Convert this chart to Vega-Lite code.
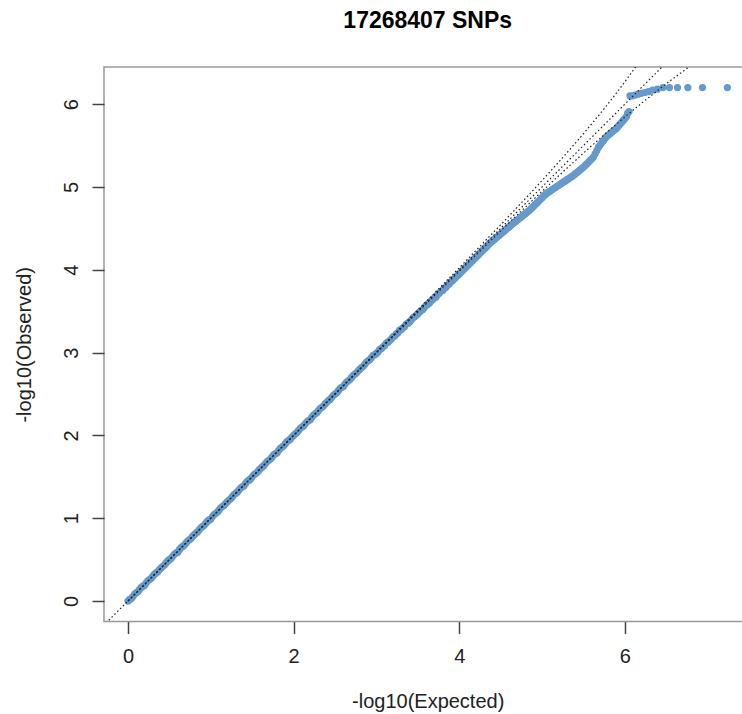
{
  "$schema": "https://vega.github.io/schema/vega-lite/v6.json",
  "width": 647.4,
  "height": 554.6,
  "autosize": {"type": "none"},
  "padding": {"left": 104, "top": 67, "right": 0, "bottom": 92},
  "background": "white",
  "title": {"text": "17268407 SNPs", "font": "Liberation Sans", "fontSize": 23, "fontWeight": "bold", "color": "#000000", "baseline": "alphabetic", "offset": 16, "anchor": "middle"},
  "config": {"view": {"stroke": "#999999", "strokeWidth": 1.5}, "font": "Liberation Sans"},
  "datasets": {
    "pts": [
      {"e":0.00,"o":0.00},{"e":0.04,"o":0.03},{"e":0.08,"o":0.085},{"e":0.12,"o":0.115},{"e":0.16,"o":0.165},{"e":0.20,"o":0.19},{"e":0.24,"o":0.245},{"e":0.28,"o":0.275},{"e":0.32,"o":0.325},{"e":0.36,"o":0.355},
      {"e":0.40,"o":0.40},{"e":0.44,"o":0.435},{"e":0.48,"o":0.485},{"e":0.52,"o":0.515},{"e":0.56,"o":0.565},{"e":0.60,"o":0.59},{"e":0.64,"o":0.645},{"e":0.68,"o":0.675},{"e":0.72,"o":0.725},{"e":0.76,"o":0.755},
      {"e":0.80,"o":0.80},{"e":0.84,"o":0.835},{"e":0.88,"o":0.885},{"e":0.92,"o":0.915},{"e":0.96,"o":0.965},{"e":1.00,"o":0.99},{"e":1.04,"o":1.045},{"e":1.08,"o":1.075},{"e":1.12,"o":1.125},{"e":1.16,"o":1.155},
      {"e":1.20,"o":1.20},{"e":1.24,"o":1.235},{"e":1.28,"o":1.285},{"e":1.32,"o":1.315},{"e":1.36,"o":1.365},{"e":1.40,"o":1.39},{"e":1.44,"o":1.445},{"e":1.48,"o":1.475},{"e":1.52,"o":1.525},{"e":1.56,"o":1.555},
      {"e":1.60,"o":1.60},{"e":1.64,"o":1.635},{"e":1.68,"o":1.685},{"e":1.72,"o":1.715},{"e":1.76,"o":1.765},{"e":1.80,"o":1.79},{"e":1.84,"o":1.845},{"e":1.88,"o":1.875},{"e":1.92,"o":1.925},{"e":1.96,"o":1.955},
      {"e":2.00,"o":2.00},{"e":2.04,"o":2.035},{"e":2.08,"o":2.085},{"e":2.12,"o":2.115},{"e":2.16,"o":2.165},{"e":2.20,"o":2.19},{"e":2.24,"o":2.245},{"e":2.28,"o":2.275},{"e":2.32,"o":2.325},{"e":2.36,"o":2.355},
      {"e":2.40,"o":2.40},{"e":2.44,"o":2.435},{"e":2.48,"o":2.485},{"e":2.52,"o":2.515},{"e":2.56,"o":2.565},{"e":2.60,"o":2.59},{"e":2.64,"o":2.645},{"e":2.68,"o":2.675},{"e":2.72,"o":2.725},{"e":2.76,"o":2.755},
      {"e":2.80,"o":2.80},{"e":2.84,"o":2.835},{"e":2.88,"o":2.885},{"e":2.92,"o":2.915},{"e":2.96,"o":2.965},{"e":3.00,"o":2.99},{"e":3.04,"o":3.04},{"e":3.08,"o":3.07},{"e":3.12,"o":3.115},{"e":3.16,"o":3.145},
      {"e":3.20,"o":3.19},{"e":3.24,"o":3.225},{"e":3.28,"o":3.27},{"e":3.32,"o":3.30},{"e":3.36,"o":3.345},{"e":3.40,"o":3.37},{"e":3.44,"o":3.42},{"e":3.48,"o":3.45},{"e":3.52,"o":3.49},{"e":3.56,"o":3.52},
      {"e":3.60,"o":3.57},{"e":3.64,"o":3.60},{"e":3.68,"o":3.64},{"e":3.72,"o":3.67},{"e":3.76,"o":3.72},{"e":3.80,"o":3.75},{"e":3.84,"o":3.79},{"e":3.88,"o":3.83},{"e":3.92,"o":3.87},{"e":3.96,"o":3.91},
      {"e":0.02,"o":0.02},{"e":0.06,"o":0.055},{"e":0.10,"o":0.10},{"e":0.14,"o":0.14},{"e":0.18,"o":0.18},{"e":0.22,"o":0.22},{"e":0.26,"o":0.26},{"e":0.30,"o":0.30},{"e":0.34,"o":0.34},{"e":0.38,"o":0.38},
      {"e":0.42,"o":0.42},{"e":0.46,"o":0.46},{"e":0.50,"o":0.50},{"e":0.54,"o":0.54},{"e":0.58,"o":0.58},{"e":0.62,"o":0.62},{"e":0.66,"o":0.66},{"e":0.70,"o":0.70},{"e":0.74,"o":0.74},{"e":0.78,"o":0.78},
      {"e":0.82,"o":0.82},{"e":0.86,"o":0.86},{"e":0.90,"o":0.90},{"e":0.94,"o":0.94},{"e":0.98,"o":0.98},{"e":1.02,"o":1.02},{"e":1.06,"o":1.06},{"e":1.10,"o":1.10},{"e":1.14,"o":1.14},{"e":1.18,"o":1.18},
      {"e":1.22,"o":1.22},{"e":1.26,"o":1.26},{"e":1.30,"o":1.30},{"e":1.34,"o":1.34},{"e":1.38,"o":1.38},{"e":1.42,"o":1.42},{"e":1.46,"o":1.46},{"e":1.50,"o":1.50},{"e":1.54,"o":1.54},{"e":1.58,"o":1.58},
      {"e":1.62,"o":1.62},{"e":1.66,"o":1.66},{"e":1.70,"o":1.70},{"e":1.74,"o":1.74},{"e":1.78,"o":1.78},{"e":1.82,"o":1.82},{"e":1.86,"o":1.86},{"e":1.90,"o":1.90},{"e":1.94,"o":1.94},{"e":1.98,"o":1.98},
      {"e":2.02,"o":2.02},{"e":2.06,"o":2.06},{"e":2.10,"o":2.10},{"e":2.14,"o":2.14},{"e":2.18,"o":2.18},{"e":2.22,"o":2.22},{"e":2.26,"o":2.26},{"e":2.30,"o":2.30},{"e":2.34,"o":2.34},{"e":2.38,"o":2.38},
      {"e":2.42,"o":2.42},{"e":2.46,"o":2.46},{"e":2.50,"o":2.50},{"e":2.54,"o":2.54},{"e":2.58,"o":2.58},{"e":2.62,"o":2.62},{"e":2.66,"o":2.66},{"e":2.70,"o":2.70},{"e":2.74,"o":2.74},{"e":2.78,"o":2.78},
      {"e":2.82,"o":2.82},{"e":2.86,"o":2.86},{"e":2.90,"o":2.90},{"e":2.94,"o":2.94},{"e":2.98,"o":2.975},{"e":3.02,"o":3.009},{"e":3.06,"o":3.048},{"e":3.10,"o":3.086},{"e":3.14,"o":3.125},{"e":3.18,"o":3.163},
      {"e":3.22,"o":3.201},{"e":3.26,"o":3.24},{"e":3.30,"o":3.278},{"e":3.34,"o":3.316},{"e":3.38,"o":3.355},{"e":3.42,"o":3.393},{"e":3.46,"o":3.432},{"e":3.50,"o":3.47},{"e":3.54,"o":3.508},{"e":3.58,"o":3.547},
      {"e":3.62,"o":3.585},{"e":3.66,"o":3.624},{"e":3.70,"o":3.662},{"e":3.74,"o":3.70},{"e":3.78,"o":3.739},{"e":3.82,"o":3.777},{"e":3.86,"o":3.816},{"e":3.90,"o":3.854},{"e":3.94,"o":3.892},{"e":3.98,"o":3.931},
      {"e":4.00,"o":3.95},{"e":4.02,"o":3.97},{"e":4.04,"o":3.99},{"e":4.06,"o":4.01},{"e":4.08,"o":4.03},{"e":4.10,"o":4.05},{"e":4.12,"o":4.07},{"e":4.14,"o":4.09},{"e":4.16,"o":4.11},{"e":4.18,"o":4.13},
      {"e":4.20,"o":4.15},{"e":4.22,"o":4.17},{"e":4.24,"o":4.19},{"e":4.26,"o":4.21},{"e":4.28,"o":4.23},{"e":4.30,"o":4.25},{"e":4.32,"o":4.27},{"e":4.34,"o":4.29},{"e":4.36,"o":4.31},{"e":4.38,"o":4.33},
      {"e":4.40,"o":4.346},{"e":4.42,"o":4.363},{"e":4.44,"o":4.38},{"e":4.46,"o":4.397},{"e":4.48,"o":4.414},{"e":4.50,"o":4.431},{"e":4.52,"o":4.449},{"e":4.54,"o":4.466},{"e":4.56,"o":4.483},{"e":4.58,"o":4.50},
      {"e":4.60,"o":4.517},{"e":4.62,"o":4.534},{"e":4.64,"o":4.551},{"e":4.66,"o":4.568},{"e":4.68,"o":4.584},{"e":4.70,"o":4.60},{"e":4.72,"o":4.616},{"e":4.74,"o":4.632},{"e":4.76,"o":4.648},{"e":4.78,"o":4.664},
      {"e":4.80,"o":4.68},{"e":4.82,"o":4.696},{"e":4.84,"o":4.712},{"e":4.86,"o":4.73},{"e":4.88,"o":4.75},{"e":4.90,"o":4.77},{"e":4.92,"o":4.79},{"e":4.94,"o":4.81},{"e":4.96,"o":4.83},{"e":4.98,"o":4.85},
      {"e":5.00,"o":4.87},{"e":5.02,"o":4.89},{"e":5.04,"o":4.91},{"e":5.06,"o":4.927},{"e":5.08,"o":4.94},{"e":5.10,"o":4.953},{"e":5.12,"o":4.967},{"e":5.14,"o":4.98},{"e":5.16,"o":4.993},{"e":5.18,"o":5.007},
      {"e":5.20,"o":5.02},{"e":5.22,"o":5.033},{"e":5.24,"o":5.047},{"e":5.26,"o":5.06},{"e":5.28,"o":5.073},{"e":5.30,"o":5.087},{"e":5.32,"o":5.10},{"e":5.34,"o":5.113},{"e":5.36,"o":5.127},{"e":5.38,"o":5.14},
      {"e":5.40,"o":5.157},{"e":5.42,"o":5.173},{"e":5.44,"o":5.19},{"e":5.46,"o":5.207},{"e":5.48,"o":5.223},{"e":5.50,"o":5.24},{"e":5.52,"o":5.26},{"e":5.54,"o":5.28},{"e":5.56,"o":5.30},{"e":5.58,"o":5.32},
      {"e":5.60,"o":5.34},{"e":5.62,"o":5.36},{"e":5.64,"o":5.40},{"e":5.66,"o":5.44},{"e":5.68,"o":5.48},{"e":5.70,"o":5.506},{"e":5.72,"o":5.532},{"e":5.74,"o":5.558},{"e":5.76,"o":5.584},{"e":5.78,"o":5.61},
      {"e":5.80,"o":5.627},{"e":5.82,"o":5.643},{"e":5.84,"o":5.66},{"e":5.86,"o":5.677},{"e":5.88,"o":5.693},{"e":5.90,"o":5.71},{"e":5.92,"o":5.733},{"e":5.94,"o":5.757},{"e":5.96,"o":5.78},{"e":5.98,"o":5.803},
      {"e":6.00,"o":5.827},{"e":6.02,"o":5.85},{"e":6.033,"o":5.89},{"e":6.05,"o":5.91},{"e":6.061,"o":6.10},{"e":6.091,"o":6.10},{"e":6.123,"o":6.11},{"e":6.158,"o":6.12},{"e":6.196,"o":6.13},{"e":6.237,"o":6.14},
      {"e":6.283,"o":6.15},{"e":6.334,"o":6.17},{"e":6.392,"o":6.18},{"e":6.459,"o":6.20},{"e":6.538,"o":6.20},{"e":6.635,"o":6.20},{"e":6.760,"o":6.20},{"e":6.936,"o":6.20},{"e":7.237,"o":6.20}
    ],
    "lns": [
      {"e":-0.3,"o":-0.3,"g":"diag"},{"e":7.6,"o":7.6,"g":"diag"},
      {"e":0,"o":0,"g":"upper"},{"e":1,"o":1.0008,"g":"upper"},{"e":2,"o":2.0024,"g":"upper"},{"e":3,"o":3.0074,"g":"upper"},{"e":3.5,"o":3.5133,"g":"upper"},{"e":4,"o":4.0238,"g":"upper"},{"e":4.5,"o":4.5428,"g":"upper"},{"e":4.75,"o":4.8075,"g":"upper"},{"e":5,"o":5.0775,"g":"upper"},{"e":5.25,"o":5.3548,"g":"upper"},{"e":5.5,"o":5.6425,"g":"upper"},{"e":5.75,"o":5.945,"g":"upper"},{"e":5.9,"o":6.1364,"g":"upper"},{"e":6.0,"o":6.2696,"g":"upper"},{"e":6.1,"o":6.4082,"g":"upper"},{"e":6.2,"o":6.5532,"g":"upper"},{"e":6.25,"o":6.6286,"g":"upper"},
      {"e":0,"o":0,"g":"lower"},{"e":1,"o":0.9995,"g":"lower"},{"e":2,"o":1.9983,"g":"lower"},{"e":3,"o":2.9946,"g":"lower"},{"e":3.5,"o":3.4904,"g":"lower"},{"e":4,"o":3.9830,"g":"lower"},{"e":4.5,"o":4.4699,"g":"lower"},{"e":4.75,"o":4.7102,"g":"lower"},{"e":5,"o":4.9474,"g":"lower"},{"e":5.25,"o":5.1806,"g":"lower"},{"e":5.5,"o":5.4089,"g":"lower"},{"e":5.75,"o":5.631,"g":"lower"},{"e":5.9,"o":5.7607,"g":"lower"},{"e":6.0,"o":5.8455,"g":"lower"},{"e":6.25,"o":6.0509,"g":"lower"},{"e":6.5,"o":6.2462,"g":"lower"},{"e":6.6,"o":6.3213,"g":"lower"},{"e":6.75,"o":6.4307,"g":"lower"},{"e":6.9,"o":6.5364,"g":"lower"},{"e":7.0,"o":6.6049,"g":"lower"}
    ]
  },
  "layer": [
    {
      "data": {"name": "pts"},
      "mark": {"type": "circle", "size": 52, "opacity": 1, "color": "#6699cc"},
      "encoding": {
        "x": {"field": "e", "type": "quantitative",
          "scale": {"domain": [-0.2895, 7.527], "nice": false, "zero": false},
          "axis": {"values": [0, 2, 4, 6], "format": "d", "domain": false, "grid": false, "tickSize": 12, "tickColor": "#444444", "tickWidth": 1.5, "labelFont": "Liberation Sans", "labelFontSize": 20, "labelColor": "#222222", "labelPadding": 13, "labelFlush": false, "title": "-log10(Expected)", "titleFont": "Liberation Sans", "titleFontSize": 20, "titleFontWeight": "normal", "titleColor": "#222222", "titlePadding": 25}},
        "y": {"field": "o", "type": "quantitative",
          "scale": {"domain": [-0.248, 6.448], "nice": false, "zero": false},
          "axis": {"values": [0, 1, 2, 3, 4, 5, 6], "format": "d", "domain": false, "grid": false, "tickSize": 12, "tickColor": "#444444", "tickWidth": 1.5, "labelAngle": -90, "labelAlign": "center", "labelBaseline": "bottom", "labelFont": "Liberation Sans", "labelFontSize": 20, "labelColor": "#222222", "labelPadding": 10, "labelFlush": false, "title": "-log10(Observed)", "titleFont": "Liberation Sans", "titleFontSize": 20, "titleFontWeight": "normal", "titleColor": "#222222", "titlePadding": 27}}
      }
    },
    {
      "data": {"name": "lns"},
      "mark": {"type": "line", "color": "#222222", "strokeWidth": 1.2, "strokeDash": [1.5, 2.5], "clip": true},
      "encoding": {
        "x": {"field": "e", "type": "quantitative"},
        "y": {"field": "o", "type": "quantitative"},
        "detail": {"field": "g", "type": "nominal"}
      }
    },
    {
      "mark": {"type": "rule", "color": "#444444", "strokeWidth": 1.5},
      "encoding": {"x": {"datum": 0}, "x2": {"datum": 6}, "y": {"datum": -0.248}}
    },
    {
      "mark": {"type": "rule", "color": "#444444", "strokeWidth": 1.5},
      "encoding": {"x": {"datum": -0.2895}, "y": {"datum": 0}, "y2": {"datum": 6}}
    }
  ]
}
